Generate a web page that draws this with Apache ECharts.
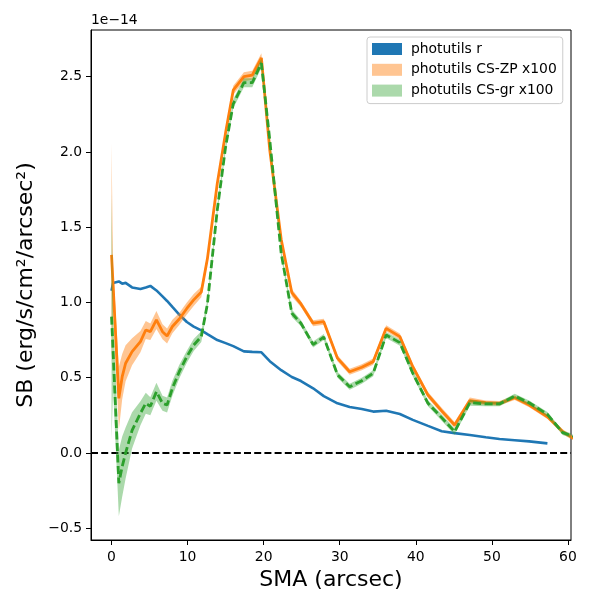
<!DOCTYPE html>
<html>
<head>
<meta charset="utf-8">
<script src="https://cdn.jsdelivr.net/npm/echarts@6/dist/echarts.min.js"></script>
<style>
html, body { margin: 0; padding: 0; background: #fff; }
#chart { width: 600px; height: 600px; }
</style>
</head>
<body>
<div id="chart"></div>
<script>
// values in units of 1e-14 erg/s/cm2/arcsec2
const sma = [0.0, 0.2, 0.96, 1.4, 1.85, 2.7, 3.8, 4.5, 5.1, 5.9, 6.7, 7.3, 8.0, 8.9, 9.9, 10.8,
  11.8, 12.6, 13.9, 15.0, 16.0, 17.4, 18.5, 19.7, 20.8, 22.3, 23.7, 24.9, 26.5, 27.9, 29.7,
  31.3, 32.9, 34.4, 36.1, 37.9, 39.6, 41.6, 43.4, 45.1, 47.1, 49.2, 51.0, 53.0, 54.9, 57.3, 59.3, 61.4];

const fluxR = [1.078, 1.13, 1.14, 1.125, 1.13, 1.10, 1.09, 1.10, 1.11, 1.08, 1.04, 1.01, 0.97, 0.92, 0.87, 0.84,
  0.815, 0.79, 0.75, 0.73, 0.71, 0.675, 0.672, 0.669, 0.61, 0.55, 0.505, 0.478, 0.43, 0.378, 0.33,
  0.305, 0.292, 0.275, 0.281, 0.259, 0.22, 0.18, 0.145, 0.132, 0.12, 0.105, 0.093, 0.085, 0.077, 0.064, null, null];

const fluxZP = [1.316, 1.12, 0.363, 0.507, 0.596, 0.673, 0.74, 0.817, 0.806, 0.884, 0.806, 0.777, 0.84, 0.89, 0.96, 1.017,
  1.07, 1.29, 1.79, 2.13, 2.41, 2.50, 2.51, 2.625, 2.013, 1.42, 1.065, 0.99, 0.862, 0.872, 0.63,
  0.54, 0.57, 0.607, 0.828, 0.773, 0.573, 0.385, 0.28, 0.186, 0.348, 0.334, 0.33, 0.367, 0.319, 0.241, 0.142, 0.075];

const errZP = [0.74, 0.12, 0.21, 0.15, 0.12, 0.09, 0.07, 0.06, 0.055, 0.06, 0.05, 0.05, 0.045, 0.04, 0.04, 0.04,
  0.035, 0.03, 0.03, 0.03, 0.03, 0.03, 0.03, 0.03, 0.025, 0.025, 0.025, 0.02, 0.02, 0.02, 0.02,
  0.02, 0.02, 0.02, 0.02, 0.02, 0.02, 0.02, 0.02, 0.02, 0.02, 0.015, 0.015, 0.015, 0.015, 0.015, 0.015, 0.015];

const fluxGR = [0.906, 0.68, -0.20, -0.09, 0.0, 0.15, 0.264, 0.33, 0.31, 0.407, 0.33, 0.319, 0.43, 0.54, 0.64, 0.717,
  0.773, 0.99, 1.615, 2.035, 2.32, 2.46, 2.46, 2.59, 2.08, 1.327, 0.928, 0.862, 0.72, 0.77, 0.52,
  0.44, 0.48, 0.53, 0.784, 0.733, 0.53, 0.33, 0.235, 0.142, 0.334, 0.326, 0.326, 0.378, 0.334, 0.257, 0.135, 0.10];

const errGR = [0.82, 0.25, 0.22, 0.2, 0.17, 0.12, 0.08, 0.07, 0.06, 0.06, 0.05, 0.05, 0.05, 0.045, 0.04, 0.04,
  0.035, 0.03, 0.03, 0.03, 0.03, 0.03, 0.03, 0.03, 0.025, 0.025, 0.025, 0.02, 0.02, 0.02, 0.02,
  0.02, 0.02, 0.02, 0.02, 0.02, 0.02, 0.02, 0.02, 0.02, 0.02, 0.015, 0.015, 0.015, 0.015, 0.015, 0.015, 0.015];

const xTicks = [0, 10, 20, 30, 40, 50, 60];
const yTicks = [-0.5, 0, 0.5, 1, 1.5, 2, 2.5];

const FONT = 'DejaVu Sans';

function pairs(ys) {
  return sma.map((x, i) => [x, ys[i]]);
}

// filled error band (value +/- err) drawn as one polygon through the axis scales
function band(name, vals, errs, fill) {
  const lower = vals.map((v, i) => v - errs[i]);
  const upper = vals.map((v, i) => v + errs[i]);
  return {
    name: name, type: 'custom', silent: true, clip: true,
    itemStyle: { color: fill },
    data: sma.map((x, i) => [x, lower[i], upper[i]]),
    encode: { x: 0, y: [1, 2] },
    renderItem: function (params, api) {
      if (params.dataIndex !== 0) return null;
      const pts = [];
      for (let i = 0; i < sma.length; i++) pts.push(api.coord([sma[i], upper[i]]));
      for (let i = sma.length - 1; i >= 0; i--) pts.push(api.coord([sma[i], lower[i]]));
      return {
        type: 'polygon',
        shape: { points: pts },
        style: { fill: fill, stroke: null }
      };
    }
  };
}

const chart = echarts.init(document.getElementById('chart'));

chart.setOption({
  animation: false,
  textStyle: { fontFamily: FONT },
  title: {
    text: '1e\u221214',
    left: 91, top: 13, padding: 0,
    textStyle: { fontFamily: FONT, fontSize: 13.9, fontWeight: 'normal', color: '#000' }
  },
  legend: {
    left: 367, top: 37,
    orient: 'vertical',
    padding: [5, 6, 6, 5],
    itemWidth: 30, itemHeight: 12, itemGap: 6.8,
    backgroundColor: 'rgba(255,255,255,0.8)',
    borderColor: '#cccccc', borderWidth: 1, borderRadius: 3,
    textStyle: { fontFamily: FONT, fontSize: 13.9, lineHeight: 14, color: '#000', padding: [0, 0, 0, 4] },
    data: [
      { name: 'photutils r', icon: 'rect', itemStyle: { color: '#1f77b4', borderWidth: 0 } },
      { name: 'photutils CS-ZP x100', icon: 'rect', itemStyle: { color: 'rgba(255,127,14,0.45)', borderWidth: 0 } },
      { name: 'photutils CS-gr x100', icon: 'rect', itemStyle: { color: 'rgba(44,160,44,0.4)', borderWidth: 0 } }
    ],
    selectedMode: false
  },
  grid: {
    left: 91, right: 29, top: 30, bottom: 60,
    show: true, borderColor: '#000', borderWidth: 1,
    outerBoundsMode: 'none'
  },
  xAxis: {
    type: 'value', min: -2.7, max: 60.4,
    name: 'SMA (arcsec)', nameLocation: 'middle', nameGap: 29,
    nameTextStyle: { fontFamily: FONT, fontSize: 22, color: '#000' },
    axisLine: { show: true, onZero: false, lineStyle: { color: '#000', width: 1 } },
    axisTick: { show: true, length: 5, lineStyle: { color: '#000' }, customValues: xTicks },
    axisLabel: { fontFamily: FONT, fontSize: 13.9, color: '#000', margin: 10, customValues: xTicks },
    splitLine: { show: false }
  },
  yAxis: {
    type: 'value', min: -0.578, max: 2.81,
    name: 'SB (erg/s/cm\u00b2/arcsec\u00b2)', nameLocation: 'middle', nameGap: 50, nameRotate: 90,
    nameTextStyle: { fontFamily: FONT, fontSize: 22, color: '#000' },
    axisLine: { show: true, onZero: false, lineStyle: { color: '#000', width: 1 } },
    axisTick: { show: true, length: 5, lineStyle: { color: '#000' }, customValues: yTicks },
    axisLabel: {
      fontFamily: FONT, fontSize: 13.9, color: '#000', margin: 9, customValues: yTicks,
      formatter: v => v.toFixed(1).replace('-', '\u2212')
    },
    splitLine: { show: false }
  },
  series: [
    {
      name: 'photutils r', type: 'line', data: pairs(fluxR),
      showSymbol: false, symbol: 'none', connectNulls: false, z: 2,
      lineStyle: { color: '#1f77b4', width: 2.6 }, itemStyle: { color: '#1f77b4' }
    },
    Object.assign(band('photutils CS-ZP x100', fluxZP, errZP, 'rgba(255,127,14,0.45)'), { z: 3 }),
    {
      name: 'zp_line', type: 'line', data: pairs(fluxZP),
      showSymbol: false, symbol: 'none', z: 4,
      lineStyle: { color: '#ff7f0e', width: 2.8 }, itemStyle: { color: '#ff7f0e' }
    },
    Object.assign(band('photutils CS-gr x100', fluxGR, errGR, 'rgba(44,160,44,0.4)'), { z: 5 }),
    {
      name: 'gr_line', type: 'line', data: pairs(fluxGR),
      showSymbol: false, symbol: 'none', z: 6,
      lineStyle: { color: '#2ca02c', width: 2.8, type: [8, 3.5] }, itemStyle: { color: '#2ca02c' },
      markLine: {
        silent: true, symbol: 'none', label: { show: false },
        lineStyle: { color: '#000', width: 1.8, type: [7, 3.2] },
        data: [{ yAxis: 0 }]
      }
    }
  ]
});
</script>
</body>
</html>
